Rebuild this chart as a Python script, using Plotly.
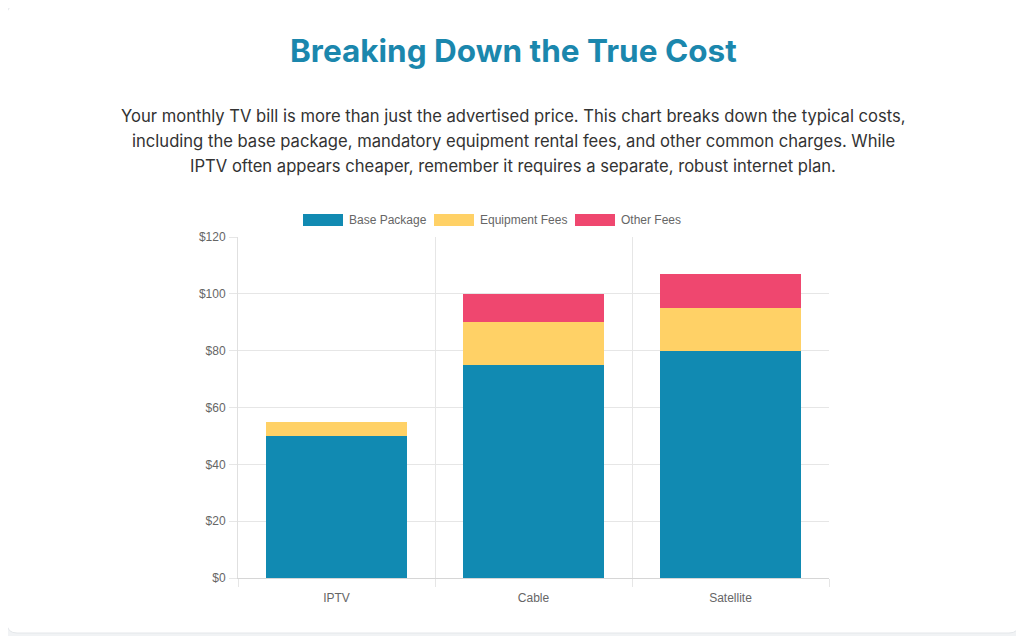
import plotly.graph_objects as go

# data
providers = ["IPTV", "Cable", "Satellite"]
base_package = [50, 75, 80]
equipment_fees = [5, 15, 15]
other_fees = [0, 10, 12]

series_names = ["Base Package", "Equipment Fees", "Other Fees"]
series_colors = ["#118AB2", "#FFD166", "#EF476F"]

title_text = "Breaking Down the True Cost"
intro_lines = [
    "Your monthly TV bill is more than just the advertised price. This chart breaks down the typical costs,",
    "including the base package, mandatory equipment rental fees, and other common charges. While",
    "IPTV often appears cheaper, remember it requires a separate, robust internet plan.",
]

# the page body has an 8px margin, so screen pixels are shifted by OFF
OFF = 8
W, H = 1024 - OFF, 636 - OFF
L, R, T, B = 238, 829, 237, 578   # plot area in screen pixels


def px(x):
    return (x - L) / (R - L)


def py(y):
    return (B - y) / (B - T)


fig = go.Figure()
for name, vals, col in zip(series_names, [base_package, equipment_fees, other_fees], series_colors):
    fig.add_trace(go.Bar(x=providers, y=vals, name=name, marker_color=col,
                         marker_line_width=0, showlegend=False,
                         hovertemplate="%{x}: $%{y}<extra>" + name + "</extra>"))

# white card with rounded corners on the grey page
x0, y0, x1, y1, r = 7, 5, 1019, 633, 10
card = (f"M {px(x0 + r)},{py(y0)} L {px(x1 - r)},{py(y0)} Q {px(x1)},{py(y0)} {px(x1)},{py(y0 + r)} "
        f"L {px(x1)},{py(y1 - r)} Q {px(x1)},{py(y1)} {px(x1 - r)},{py(y1)} "
        f"L {px(x0 + r)},{py(y1)} Q {px(x0)},{py(y1)} {px(x0)},{py(y1 - r)} "
        f"L {px(x0)},{py(y0 + r)} Q {px(x0)},{py(y0)} {px(x0 + r)},{py(y0)} Z")
shapes = [dict(type="path", path=card, xref="paper", yref="paper", layer="below",
               fillcolor="white", line=dict(color="#e4e7ea", width=1))]

cx = 0.5 * (px(7) + px(1019))
annotations = [dict(text=f"<b>{title_text}</b>", x=cx, y=py(50),
                    xref="paper", yref="paper", showarrow=False, xanchor="center", yanchor="middle",
                    font=dict(family="Inter, Noto Sans, sans-serif", size=31.5, color="#1B87AD"))]
for i, line in enumerate(intro_lines):
    annotations.append(dict(text=line, x=cx, y=py(116 + 25 * i),
                            xref="paper", yref="paper", showarrow=False,
                            xanchor="center", yanchor="middle",
                            font=dict(family="Inter, Noto Sans, sans-serif", size=16.6, color="#333333")))

# chart.js style legend: wide colour boxes with labels
legend_x = [303, 434, 575]
for name, col, lx in zip(series_names, series_colors, legend_x):
    shapes.append(dict(type="rect", xref="paper", yref="paper",
                       x0=px(lx), x1=px(lx + 40), y0=py(214), y1=py(226),
                       fillcolor=col, line=dict(width=0)))
    annotations.append(dict(text=name, x=px(lx + 44), y=py(220), xref="paper", yref="paper",
                            showarrow=False, xanchor="left", yanchor="middle",
                            font=dict(family="Liberation Sans, Arial, sans-serif", size=12, color="#666666")))

fig.update_layout(
    width=W, height=H,
    margin=dict(l=L - OFF, r=W + OFF - R, t=T - OFF, b=H + OFF - B, pad=0),
    paper_bgcolor="#F1F3F5", plot_bgcolor="rgba(0,0,0,0)",
    barmode="stack", bargap=0.28,
    shapes=shapes, annotations=annotations,
    font=dict(family="Liberation Sans, Arial, sans-serif", size=12, color="#666666"),
    xaxis=dict(tickson="boundaries", showgrid=True, gridcolor="#E6E6E6",
               ticks="outside", ticklen=8, tickcolor="#E6E6E6", ticklabelstandoff=9,
               showline=True, linecolor="#D6D6D6", zeroline=False, fixedrange=True),
    yaxis=dict(range=[0, 120], dtick=20, tickprefix="$", showgrid=True, gridcolor="#E6E6E6",
               ticks="outside", ticklen=8, tickcolor="#E6E6E6", ticklabelstandoff=1,
               showline=True, linecolor="#E0E0E0", zeroline=False, fixedrange=True),
    hovermode="closest",
)

fig.write_html("out.html")
